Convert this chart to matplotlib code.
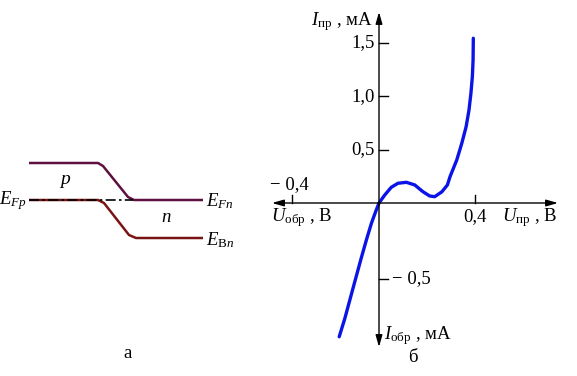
import numpy as np
import matplotlib
matplotlib.use("Agg")
import matplotlib.pyplot as plt

plt.rcParams['font.family'] = ['Liberation Serif', 'DejaVu Serif']
plt.rcParams['mathtext.fontset'] = 'custom'
plt.rcParams['mathtext.rm'] = 'Liberation Serif'
plt.rcParams['mathtext.it'] = 'Liberation Serif:italic'

# --- tunnel diode I-V curve (V, mA)
u_volts = [-0.183, -0.157, -0.132, -0.107, -0.082, -0.058, -0.035, -0.015, 0.0,
           0.024, 0.051, 0.079, 0.114, 0.149, 0.183, 0.211, 0.232, 0.262, 0.285,
           0.296, 0.324, 0.345, 0.363, 0.375, 0.383, 0.389, 0.392, 0.393]
i_ma = [-0.880, -0.759, -0.627, -0.495, -0.364, -0.243, -0.134, -0.055, 0.0,
        0.075, 0.147, 0.185, 0.194, 0.169, 0.106, 0.066, 0.059, 0.105, 0.169,
        0.247, 0.403, 0.560, 0.715, 0.872, 1.028, 1.184, 1.340, 1.544]

y_ticks = [0.5, 1.0, 1.5]
y_tick_labels = ['0,5', '1,0', '1,5']
y_neg_tick = -0.5
x_pos_tick = 0.4
x_neg_tick = -0.4

# --- band diagram (schematic, pixel-like units)
band_top_x = [29, 98, 103, 128, 134, 203]
band_top_y = [163, 163, 166, 197, 200, 200]
band_low_x = [29, 98, 104, 129, 136, 203]
band_low_y = [200, 200, 203, 235, 238, 238]
fermi_x = [29, 133]
fermi_y = [200, 200]

fs = 13.5

fig = plt.figure(figsize=(5.77, 3.76), dpi=100)

# left panel
axl = fig.add_axes([0, 0, 260 / 577, 1])
axl.set_xlim(0, 260)
axl.set_ylim(376, 0)
axl.axis('off')
axl.plot(band_top_x, band_top_y, color='#5e1040', lw=1.8, solid_capstyle='butt')
axl.plot(band_low_x, band_low_y, color='#7a1414', lw=1.8, solid_capstyle='butt')
axl.plot(fermi_x, fermi_y, color='black', lw=1.2, linestyle=(0, (6, 2, 1.5, 2)))
axl.text(-1, 201, r'$E_{Fp}$', fontsize=fs, ha='left', va='center')
axl.text(206, 201, r'$E_{Fn}$', fontsize=fs, ha='left', va='center')
axl.text(206, 240, r'$E_{\mathrm{B}n}$', fontsize=fs, ha='left', va='center')
axl.text(65, 181, r'$p$', fontsize=14, ha='center', va='center')
axl.text(166, 217, r'$n$', fontsize=fs, ha='center', va='center')
axl.text(128, 354, 'а', fontsize=fs, ha='center', va='center')

# right panel: different scales for forward and reverse branches
kx_pos, kx_neg = 240.0, 217.5
ky_pos, ky_neg = 106.7, 152.0


def fx(x):
    x = np.asarray(x, dtype=float)
    return np.where(x >= 0, x * kx_pos, x * kx_neg)


def fx_inv(p):
    p = np.asarray(p, dtype=float)
    return np.where(p >= 0, p / kx_pos, p / kx_neg)


def fy(y):
    y = np.asarray(y, dtype=float)
    return np.where(y >= 0, y * ky_pos, y * ky_neg)


def fy_inv(p):
    p = np.asarray(p, dtype=float)
    return np.where(p >= 0, p / ky_pos, p / ky_neg)


axr = fig.add_axes([260 / 577, 0, 317 / 577, 1])
axr.set_xscale('function', functions=(fx, fx_inv))
axr.set_yscale('function', functions=(fy, fy_inv))
axr.set_xlim((260 - 379) / kx_neg, (577 - 379) / kx_pos)
axr.set_ylim(-(376 - 203) / ky_neg, 203 / ky_pos)
axr.axis('off')

x_left, x_right = (272 - 379) / kx_neg, (558 - 379) / kx_pos
y_bot, y_top = -(347 - 203) / ky_neg, (203 - 12) / ky_pos
arrow = dict(arrowstyle='-|>,head_length=0.7,head_width=0.2', color='black', lw=1.0,
             shrinkA=0, shrinkB=0)
axr.annotate('', xy=(x_right, 0), xytext=(0, 0), arrowprops=arrow)
axr.annotate('', xy=(x_left, 0), xytext=(0, 0), arrowprops=arrow)
axr.annotate('', xy=(0, y_top), xytext=(0, 0), arrowprops=arrow)
axr.annotate('', xy=(0, y_bot), xytext=(0, 0), arrowprops=arrow)

tick_dx = fx_inv(9)
tick_dy = fy_inv(8)
for t, lab in zip(y_ticks, y_tick_labels):
    axr.plot([0, tick_dx], [t, t], color='black', lw=1.0)
    axr.text(fx_inv(-4), t, lab, fontsize=fs, ha='right', va='center')
axr.plot([0, tick_dx], [y_neg_tick, y_neg_tick], color='black', lw=1.0)
axr.text(fx_inv(13), y_neg_tick, '− 0,5', fontsize=fs, ha='left', va='center')
axr.plot([x_pos_tick, x_pos_tick], [0, tick_dy], color='black', lw=1.0)
axr.text(x_pos_tick, fy_inv(-14), '0,4', fontsize=fs, ha='center', va='center')
axr.plot([x_neg_tick, x_neg_tick], [0, tick_dy], color='black', lw=1.0)
axr.text(fx_inv(-90), fy_inv(18), '− 0,4', fontsize=fs, ha='center', va='center')

axr.text(fx_inv(-6), fy_inv(181), r'$I_{\mathrm{пр}}$ , мА', fontsize=fs, ha='right', va='center')
axr.text(fx_inv(-108), fy_inv(-15), r'$U_{\mathrm{обр}}$ , В', fontsize=fs, ha='left', va='center')
axr.text(fx_inv(178), fy_inv(-15), r'$U_{\mathrm{пр}}$ , В', fontsize=fs, ha='right', va='center')
axr.text(fx_inv(5), fy_inv(-133), r'$I_{\mathrm{обр}}$ , мА', fontsize=fs, ha='left', va='center')
axr.text(fx_inv(34), fy_inv(-154), 'б', fontsize=fs, ha='center', va='center')

axr.plot(u_volts, i_ma, color='#0a14e6', lw=2.4, solid_capstyle='round',
         solid_joinstyle='round')

fig.savefig('out.png', dpi=100)
